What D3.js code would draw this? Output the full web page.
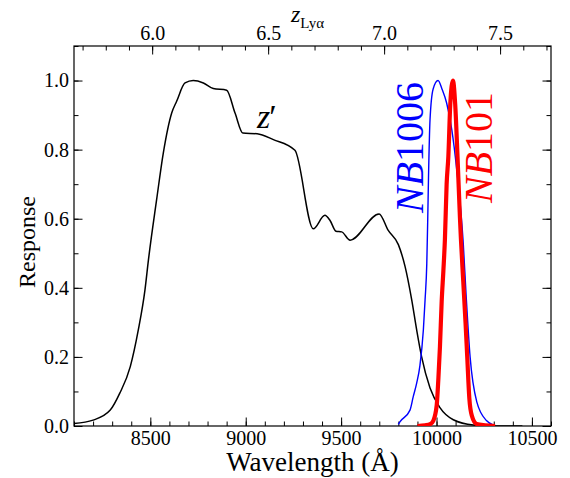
<!DOCTYPE html>
<html>
<head>
<meta charset="utf-8">
<script src="https://cdn.jsdelivr.net/npm/d3@7"></script>
<style>
  body { margin: 0; background: #fff; }
  svg { display: block; }
</style>
</head>
<body>
<svg id="graph"></svg>
<script>
// z' filter response
const zprimeWave = [8100, 8200, 8290, 8340, 8395, 8437, 8472, 8490, 8533, 8568, 8612, 8638, 8682, 8725,
  8778, 8830, 8900, 8944, 8985, 9060, 9145, 9258, 9354, 9415, 9442, 9473, 9503, 9547, 9699, 9747,
  9800, 9835, 9870, 9896, 9922, 9966, 10018, 10088, 10193, 10317, 10450];
const zprimeResp = [0.007, 0.017, 0.046, 0.095, 0.172, 0.278, 0.394, 0.48, 0.655, 0.79, 0.906, 0.94, 0.993, 1.0,
  0.993, 0.977, 0.972, 0.906, 0.848, 0.846, 0.829, 0.798, 0.571, 0.61, 0.595, 0.564, 0.562, 0.538, 0.614, 0.566,
  0.525, 0.462, 0.365, 0.278, 0.2, 0.11, 0.053, 0.018, 0.003, 0.0, 0.0];

// NB1006
const nb1006Wave = [9800, 9808, 9861, 9878, 9896, 9913, 9931, 9940, 9949, 9954, 9958, 9966, 9982, 10008,
  10029, 10053, 10080, 10106, 10140, 10155, 10176, 10211, 10263, 10296];
const nb1006Resp = [0.005, 0.012, 0.046, 0.085, 0.124, 0.175, 0.278, 0.365, 0.47, 0.6, 0.72, 0.887, 0.975, 1.0,
  0.975, 0.935, 0.858, 0.742, 0.53, 0.38, 0.2, 0.07, 0.015, 0.003];

// NB101
const nb101Wave = [9900, 9940, 9966, 9983, 10001, 10010, 10018, 10027, 10036, 10044, 10053, 10062, 10072, 10086,
  10098, 10110, 10123, 10128, 10140, 10152, 10161, 10172, 10185, 10210, 10255, 10307];
const nb101Resp = [0.0, 0.002, 0.005, 0.015, 0.06, 0.14, 0.23, 0.36, 0.45, 0.54, 0.7, 0.78, 0.93, 1.0,
  0.93, 0.78, 0.6, 0.54, 0.42, 0.3, 0.2, 0.08, 0.03, 0.006, 0.002, 0.0];

// ticks
const waveTicks = [8500, 9000, 9500, 10000, 10500];
const waveMinor = d3.range(8100, 10601, 100);
const respTicks = [0, 0.2, 0.4, 0.6, 0.8, 1.0];
const respMinor = d3.range(0, 1.101, 0.1);
const zTicks = [6.0, 6.5, 7.0, 7.5];
const zMinor = d3.range(5.7, 7.75, 0.1);

const lyaRest = 1215.67;
const font = "'Liberation Serif', 'DejaVu Serif', 'Liberation Sans', sans-serif";

const width = 570;
const height = 478;
const margin = { top: 46, right: 19, bottom: 52, left: 74 };

const svg = d3.select("#graph").attr("width", width).attr("height", height)
  .attr("font-family", font);

const xScale = d3.scaleLinear()
  .domain([8100, 10600])
  .range([margin.left, width - margin.right]);

const yScale = d3.scaleLinear()
  .domain([0, 1.1])
  .range([height - margin.bottom, margin.top]);

const zScale = d3.scaleLinear()
  .domain(xScale.domain().map((w) => w / lyaRest - 1))
  .range(xScale.range());

svg.append("defs").append("clipPath").attr("id", "plot-clip")
  .append("rect")
  .attr("x", margin.left).attr("y", margin.top)
  .attr("width", width - margin.left - margin.right)
  .attr("height", height - margin.top - margin.bottom);

function styleAxis(g) {
  g.attr("font-family", font).attr("font-size", 20);
  g.select(".domain").remove();
  g.selectAll(".tick line").attr("stroke", "#000").attr("stroke-width", 1);
  g.selectAll(".tick text").attr("fill", "#000");
}

const fmt = d3.format(".1f");
const bottom = height - margin.bottom;
const right = width - margin.right;

// bottom
svg.append("g").attr("transform", `translate(0,${bottom})`)
  .call(d3.axisBottom(xScale).tickValues(waveMinor).tickSize(-4.5).tickFormat(""))
  .call(styleAxis);
svg.append("g").attr("transform", `translate(0,${bottom})`)
  .call(d3.axisBottom(xScale).tickValues(waveTicks).tickSize(-8.5).tickPadding(5).tickFormat(d3.format("d")))
  .call(styleAxis);

// top (redshift)
svg.append("g").attr("transform", `translate(0,${margin.top})`)
  .call(d3.axisTop(zScale).tickValues(zMinor).tickSize(-4.5).tickFormat(""))
  .call(styleAxis);
svg.append("g").attr("transform", `translate(0,${margin.top})`)
  .call(d3.axisTop(zScale).tickValues(zTicks).tickSize(-8.5).tickPadding(6).tickFormat(fmt))
  .call(styleAxis);

// left
svg.append("g").attr("transform", `translate(${margin.left},0)`)
  .call(d3.axisLeft(yScale).tickValues(respMinor).tickSize(-4.5).tickFormat(""))
  .call(styleAxis);
svg.append("g").attr("transform", `translate(${margin.left},0)`)
  .call(d3.axisLeft(yScale).tickValues(respTicks).tickSize(-8.5).tickPadding(5).tickFormat(fmt))
  .call(styleAxis);

// right
svg.append("g").attr("transform", `translate(${right},0)`)
  .call(d3.axisRight(yScale).tickValues(respMinor).tickSize(-4.5).tickFormat(""))
  .call(styleAxis);
svg.append("g").attr("transform", `translate(${right},0)`)
  .call(d3.axisRight(yScale).tickValues(respTicks).tickSize(-8.5).tickFormat(""))
  .call(styleAxis);

// frame
svg.append("rect")
  .attr("x", margin.left).attr("y", margin.top)
  .attr("width", right - margin.left)
  .attr("height", bottom - margin.top)
  .attr("fill", "none").attr("stroke", "#000").attr("stroke-width", 1.2);

const line = d3.line()
  .x((d) => xScale(d[0]))
  .y((d) => yScale(d[1]))
  .curve(d3.curveMonotoneX);

const curves = [
  { wave: zprimeWave, resp: zprimeResp, color: "#000000", w: 1.5 },
  { wave: nb1006Wave, resp: nb1006Resp, color: "#0000ff", w: 1.4 },
  { wave: nb101Wave, resp: nb101Resp, color: "#ff0000", w: 4.2 },
];

curves.forEach((c) => {
  svg.append("path")
    .datum(d3.zip(c.wave, c.resp))
    .attr("clip-path", "url(#plot-clip)")
    .attr("d", line)
    .attr("fill", "none")
    .attr("stroke", c.color)
    .attr("stroke-width", c.w)
    .attr("stroke-linejoin", "round");
});

// labels
svg.append("text")
  .attr("x", (margin.left + right) / 2)
  .attr("y", 471)
  .attr("text-anchor", "middle")
  .attr("font-size", 27)
  .text("Wavelength (Å)");

svg.append("text")
  .attr("transform", "translate(35,242) rotate(-90)")
  .attr("text-anchor", "middle")
  .attr("font-size", 24)
  .text("Response");

const zLabel = svg.append("text").attr("x", 291).attr("y", 22);
zLabel.append("tspan").attr("font-style", "italic").attr("font-size", 24).text("z");
zLabel.append("tspan").attr("font-size", 15).attr("dy", 6).text("Lyα");

const zp = svg.append("text")
  .attr("x", 257).attr("y", 128)
  .attr("font-size", 34);
zp.append("tspan").attr("font-style", "italic").text("z");
zp.append("tspan").attr("dx", -1).text("′");

const nb1 = svg.append("text")
  .attr("transform", "translate(423,213) rotate(-90)")
  .attr("font-size", 40)
  .attr("fill", "#0000ff");
nb1.append("tspan").attr("font-style", "italic").text("NB");
nb1.append("tspan").text("1006");

const nb2 = svg.append("text")
  .attr("transform", "translate(491.5,203) rotate(-90)")
  .attr("font-size", 40)
  .attr("fill", "#ff0000");
nb2.append("tspan").attr("font-style", "italic").text("NB");
nb2.append("tspan").text("101");
</script>
</body>
</html>
